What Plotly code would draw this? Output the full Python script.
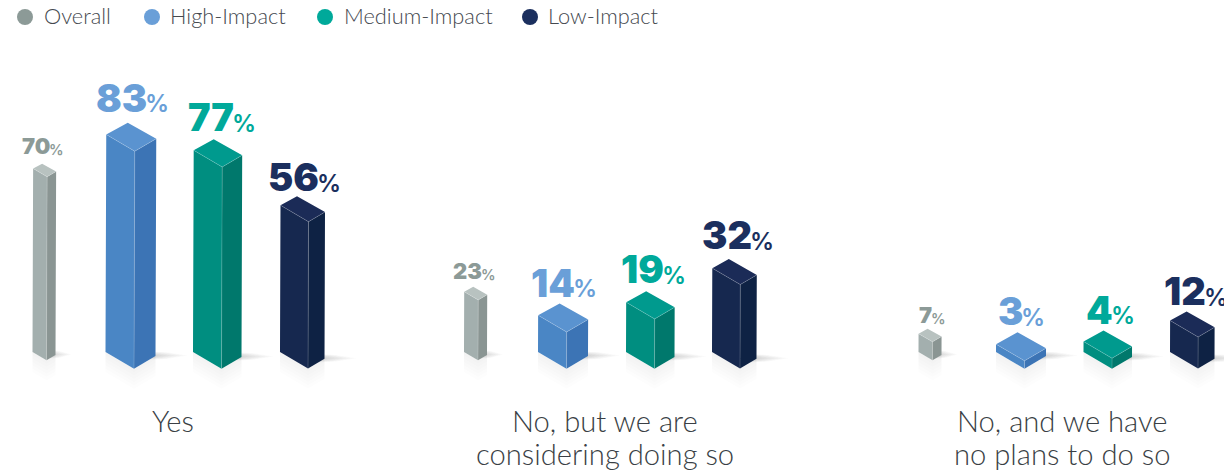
import plotly.graph_objects as go

# Survey results, in percent
categories = [["Yes"], ["No, but we are", "considering doing so"], ["No, and we have", "no plans to do so"]]
series = ["Overall", "High-Impact", "Medium-Impact", "Low-Impact"]
overall = [70, 23, 7]
high_impact = [83, 14, 3]
medium_impact = [77, 19, 4]
low_impact = [56, 32, 12]
values = [overall, high_impact, medium_impact, low_impact]

# Page geometry of the isometric columns
WIDTH, HEIGHT = 1224, 471
BASE_PX = 352.0          # pixel row of a column's left base corner
PX_PER_PCT = 2.62
SLOPE = 0.586
BACK_SLOPE = 0.55
LEAN = 0.009             # slight rightward drift of the column per percent
CATEGORY_X = [173, 605, 1062]
CAPTION_ROWS = [420.5, 453.5]
LEFT_EDGES = [
    [32.5, 105.5, 193, 280],
    [464, 538, 626, 712],
    [918.5, 996, 1083.5, 1170],
]
FACE_LEFT = [14, 28.5, 28.5, 28]     # footprint width of the front face
FACE_RIGHT = [9, 21.5, 20, 16.5]     # footprint width of the side face
LABEL_SPLIT = [
    [17, 41, 41, 38.5],
    [17.5, 36.5, 37.5, 40],
    [13.5, 27, 29.5, 36],
]
LABEL_GAP = [
    [12, 13, 10, 7],
    [10, 9, 10, 12],
    [8, 9, 9, 8],
]
LABEL_DROP = 2.5
NUM_SIZE = [22, 38, 38, 38]
PCT_SIZE = [14.5, 24, 24, 24]
PCT_NUDGE = [-2, -3, -3, -3]
LEGEND_MARK_X = [25, 152, 325, 530]
LEGEND_TEXT_X = [42, 168, 342, 546]

LABEL_COLOR = ["#8C9A97", "#6A9FD8", "#00A99A", "#1B2F5E"]
FRONT_COLOR = ["#A3AFAE", "#4A86C5", "#008E80", "#16284F"]
SIDE_COLOR = ["#8A9593", "#3C74B5", "#00786C", "#0E2244"]
TOP_COLOR = ["#B8C2C0", "#5A93D0", "#009A8E", "#1B2B57"]


def val_of(px_row):
    return (BASE_PX - px_row) / PX_PER_PCT


def rise(px):
    return px / PX_PER_PCT


def join(polys):
    xs, ys = [], []
    for poly in polys:
        xs += [p[0] for p in poly] + [poly[0][0], None]
        ys += [p[1] for p in poly] + [poly[0][1], None]
    return xs, ys


def corners(left, s, v):
    dl, dr = FACE_LEFT[s], FACE_RIGHT[s]
    drift = LEAN * v
    bl = (left, 0)
    bf = (left + dl, -rise(dl * SLOPE))
    br = (left + dl + dr, -rise(dl * SLOPE) + rise(dr * SLOPE))
    tl = (bl[0] + drift, v)
    tf = (bf[0] + drift, bf[1] + v)
    tr = (br[0] + drift, br[1] + v)
    tb = (left + dr + drift, v + rise(dr * BACK_SLOPE))
    return bl, bf, br, tl, tf, tr, tb


fig = go.Figure()


def add_poly(polys, color):
    xs, ys = join(polys)
    fig.add_trace(go.Scatter(x=xs, y=ys, mode="lines", fill="toself", fillcolor=color,
                             line=dict(width=0), hoverinfo="skip", showlegend=False))


# Soft floor shadow to the right of each column, built up from stacked layers
for k in range(8):
    t = k / 7
    polys = []
    for g, row in enumerate(LEFT_EDGES):
        for s, left in enumerate(row):
            bl, bf, br, *_ = corners(left, s, values[s][g])
            reach = (38 if s else 22) * (1 - 0.75 * t)
            half = 4.2 * (1 - 0.62 * t)
            x0 = br[0] - 6
            mid = br[1] + rise(0.5)
            polys.append([(x0, mid + rise(half)), (x0 + reach * 0.45, mid + rise(half * 0.8)),
                          (x0 + reach, mid), (x0 + reach * 0.45, mid - rise(half * 0.8)),
                          (x0, mid - rise(half))])
    add_poly(polys, "rgba(60,60,60,0.028)")

# Faint floor reflection under the front and side faces
for k in range(6):
    depth = 20 * (1 - k / 6)
    polys = []
    for g, row in enumerate(LEFT_EDGES):
        for s, left in enumerate(row):
            bl, bf, br, *_ = corners(left, s, values[s][g])
            d = rise(depth)
            polys.append([bl, bf, (bf[0], bf[1] - d), (bl[0], bl[1] - d)])
            polys.append([bf, br, (br[0], br[1] - d), (bf[0], bf[1] - d)])
    add_poly(polys, "rgba(90,90,90,0.012)")

# Column faces, one group of three traces per series
for s, name in enumerate(series):
    front, side, top = [], [], []
    ex, ey = [], []
    for g, row in enumerate(LEFT_EDGES):
        bl, bf, br, tl, tf, tr, tb = corners(row[s], s, values[s][g])
        front.append([bl, bf, tf, tl])
        side.append([bf, br, tr, tf])
        top.append([tl, tf, tr, tb])
        for a, b in ((tl, tf), (tf, tr), (tf, bf)):
            ex += [a[0], b[0], None]
            ey += [a[1], b[1], None]
    add_poly(front, FRONT_COLOR[s])
    add_poly(side, SIDE_COLOR[s])
    add_poly(top, TOP_COLOR[s])
    fig.add_trace(go.Scatter(x=ex, y=ey, mode="lines", hoverinfo="skip", showlegend=False,
                             line=dict(color="rgba(255,255,255,0.25)", width=0.7)))

annotations = []
NUM_FONT = "Inter"
TEXT_FONT = "Lato"

# Value labels: bold number with a smaller percent sign beside it
for g, row in enumerate(LEFT_EDGES):
    for s, left in enumerate(row):
        v = values[s][g]
        *_, tb = corners(left, s, v)
        split = left + LABEL_SPLIT[g][s]
        base = tb[1] + rise(LABEL_GAP[g][s])
        annotations.append(dict(x=split, y=base, xref="x", yref="y", text=str(v), showarrow=False,
                                xanchor="right", yanchor="bottom", xshift=1,
                                yshift=-NUM_SIZE[s] * 0.25 - LABEL_DROP, borderpad=0,
                                font=dict(family=NUM_FONT, size=NUM_SIZE[s], color=LABEL_COLOR[s], weight=900)))
        annotations.append(dict(x=split, y=base, xref="x", yref="y", text="%", showarrow=False,
                                xanchor="left", yanchor="bottom", xshift=PCT_NUDGE[s],
                                yshift=-PCT_SIZE[s] * 0.25 - LABEL_DROP - 1, borderpad=0,
                                font=dict(family=NUM_FONT, size=PCT_SIZE[s], color=LABEL_COLOR[s], weight=600)))

# Category captions below each group, one annotation per line
for cx, lines in zip(CATEGORY_X, categories):
    for row_px, line in zip(CAPTION_ROWS, lines):
        annotations.append(dict(x=cx, y=val_of(row_px), xref="x", yref="y", text=line, showarrow=False,
                                xanchor="center", yanchor="middle",
                                font=dict(family=TEXT_FONT, size=29.2, color="#3A3F45", weight=300)))

# Legend row across the top
for s, name in enumerate(series):
    fig.add_trace(go.Scatter(x=[LEGEND_MARK_X[s]], y=[val_of(17)], mode="markers", name=name,
                             marker=dict(size=16, color=LABEL_COLOR[s]),
                             hoverinfo="name", showlegend=False, cliponaxis=False))
    annotations.append(dict(x=LEGEND_TEXT_X[s], y=val_of(15), xref="x", yref="y", text=name, showarrow=False,
                            xanchor="left", yanchor="middle",
                            font=dict(family=TEXT_FONT, size=21.8, color="#45494F", weight=300)))

fig.update_layout(
    width=WIDTH, height=HEIGHT, margin=dict(l=0, r=0, t=0, b=0),
    paper_bgcolor="white", plot_bgcolor="white", showlegend=False,
    xaxis=dict(range=[0, WIDTH], visible=False, fixedrange=True),
    yaxis=dict(range=[val_of(HEIGHT), val_of(0)], visible=False, fixedrange=True),
    annotations=annotations,
)
fig.write_html("out.html", config={"displayModeBar": False})
